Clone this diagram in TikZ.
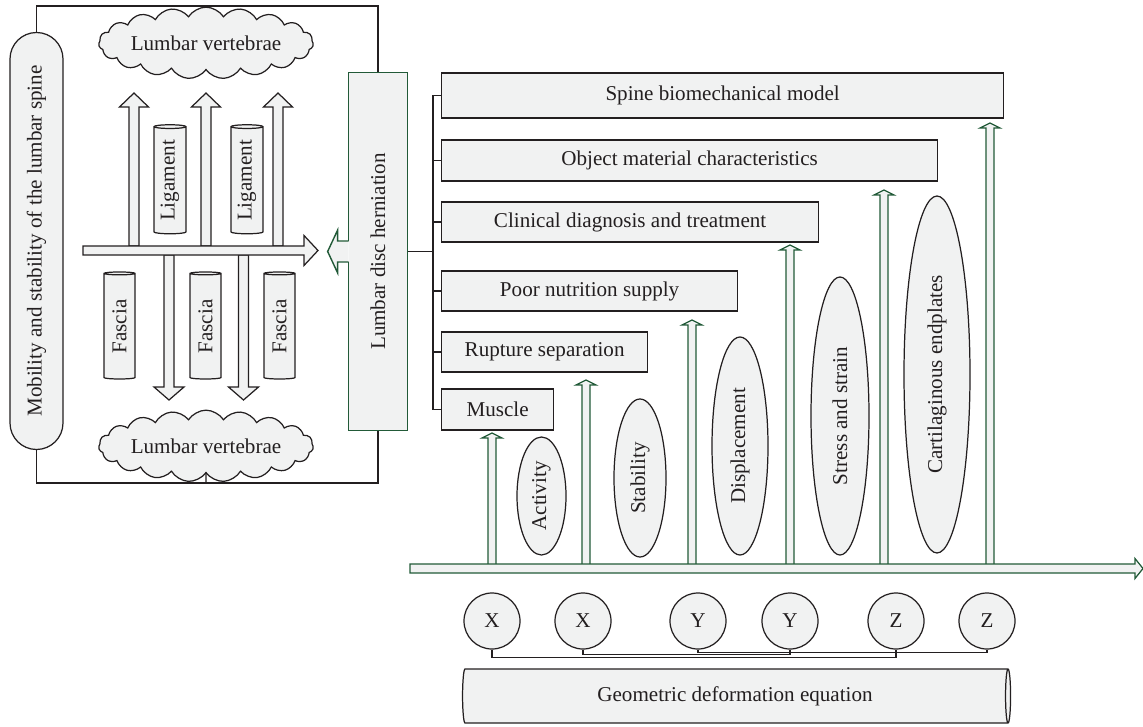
\documentclass[tikz,border=0pt]{standalone}
\usepackage{graphicx}
\usepackage{fontspec}
\setmainfont{Liberation Serif}
\usepackage{tikz}
\usetikzlibrary{shapes.geometric,shapes.symbols,calc,backgrounds}
\definecolor{boxfill}{RGB}{241,242,242}
\definecolor{inkgray}{RGB}{35,31,32}
\definecolor{darkgreen}{RGB}{34,90,56}

% block arrows: [style]{x}{y start}{y head base}{y tip}{shaft half}{head half}
\newcommand{\varrow}[7][]{%
  \filldraw[#1] ({#2-#6},{#3}) -- ({#2-#6},{#4}) -- ({#2-#7},{#4}) -- ({#2},{#5})
   -- ({#2+#7},{#4}) -- ({#2+#6},{#4}) -- ({#2+#6},{#3}) -- cycle;}
% [style]{y}{x start}{x head base}{x tip}{shaft half}{head half}
\newcommand{\harrow}[7][]{%
  \filldraw[#1] ({#3},{#2-#6}) -- ({#4},{#2-#6}) -- ({#4},{#2-#7}) -- ({#5},{#2})
   -- ({#4},{#2+#7}) -- ({#4},{#2+#6}) -- ({#3},{#2+#6}) -- cycle;}

\tikzset{
  every node/.style={font=\fontsize{12}{14}\selectfont, text=inkgray},
  graybox/.style={rectangle, draw=inkgray, fill=boxfill, line width=0.7pt, inner sep=0pt, anchor=west},
  pill/.style={rectangle, rounded corners=5.3mm, draw=inkgray, fill=boxfill, line width=0.7pt,
    minimum width=10.6mm, minimum height=83.4mm, inner sep=0pt},
  hernbox/.style={rectangle, fill=boxfill, minimum width=11.6mm, minimum height=71.4mm, inner sep=0pt},
  cylnode/.style={cylinder, draw=inkgray, fill=boxfill, line width=0.7pt, rotate=90, aspect=0.2, inner sep=0pt},
  oval/.style={ellipse, draw=inkgray, fill=boxfill, line width=0.7pt, rotate=90, inner sep=0pt},
  xyz/.style={circle, draw=inkgray, fill=boxfill, line width=0.7pt, minimum size=11.2mm, inner sep=0pt},
  vcloud/.style={cloud, cloud puffs=19, cloud puff arc=115, aspect=4, draw=inkgray, fill=boxfill,
    line width=0.7pt, minimum width=40mm, minimum height=9.6mm, inner sep=0pt},
  hollow/.style={draw=inkgray, fill=boxfill, line width=0.7pt},
  greenarrow/.style={draw=darkgreen, fill=boxfill, line width=0.7pt},
  greenline/.style={draw=darkgreen, line width=0.8pt},
  link/.style={draw=inkgray, line width=0.7pt}
}

\begin{document}
\begin{tikzpicture}[x=0.2mm,y=-0.2mm]
\useasboundingbox (0,0) rectangle (1143,727);

% left part
\node[pill] (mobility) at (36.5,241) {\rotatebox{90}{Mobility and stability of the lumbar spine}};
\node[vcloud] (vtop) at (206,43) {Lumbar vertebrae};
\node[vcloud] (vbot) at (206,446) {Lumbar vertebrae};
\node[hernbox] (hern) at (378,251.5) {\rotatebox{90}{Lumbar disc herniation}};

\coordinate (ftop) at (206,6);
\coordinate (fbot) at (206,483);
\coordinate (bus) at (433,0);

\foreach \x in {134,206,278} \varrow[hollow]{\x}{246}{107}{93}{5}{14.5};
\foreach \x in {169,243.5} \varrow[hollow]{\x}{255}{387}{400}{5}{15};
\harrow[hollow]{250.5}{83}{304}{318}{4.5}{15};

\node[cylnode, minimum height=21.8mm, minimum width=6.4mm] (ligament1) at (170,180.5) {Ligament};
\node[cylnode, minimum height=21.8mm, minimum width=6.4mm] (ligament2) at (247,180.5) {Ligament};
\node[cylnode, minimum height=21.4mm, minimum width=6.2mm] (fascia1) at (119.5,326.5) {Fascia};
\node[cylnode, minimum height=21.4mm, minimum width=6.2mm] (fascia2) at (205.5,326.5) {Fascia};
\node[cylnode, minimum height=21.4mm, minimum width=6.2mm] (fascia3) at (279.5,326.5) {Fascia};

% herniation box with its arrow notch
\filldraw[greenline, fill=boxfill] ($(hern.west)+(0,-10.5)$) -- ++(-11,0) -- ++(0,-11) -- ++(-10,21.5)
  -- ++(10,21.5) -- ++(0,-11) -- ++(11,0);
\draw[greenline] ($(hern.west)+(0,-10.5)$) |- (hern.north east) |- (hern.south west) -- ($(hern.west)+(0,10.5)$);

% right boxes
\node[graybox, minimum width=112.4mm, minimum height=9mm] (spine) at (441,95.5) {Spine biomechanical model};
\node[graybox, minimum width=99.2mm, minimum height=8.2mm] (object) at (441,160.5) {Object material characteristics};
\node[graybox, minimum width=75.4mm, minimum height=8mm] (clinical) at (441,222) {Clinical diagnosis and treatment};
\node[graybox, minimum width=59.2mm, minimum height=8mm] (nutrition) at (441,291) {Poor nutrition supply};
\node[graybox, minimum width=41.2mm, minimum height=8mm] (rupture) at (441,352) {Rupture separation};
\node[graybox, minimum width=22.4mm, minimum height=8.2mm] (muscle) at (441,409.5) {Muscle};

% ovals
\node[oval, minimum width=23.6mm, minimum height=9.8mm] (activity) at (541.5,496) {Activity};
\node[oval, minimum width=31.6mm, minimum height=10.4mm] (stability) at (640,478) {Stability};
\node[oval, minimum width=43.6mm, minimum height=11.2mm] (displacement) at (740,446) {Displacement};
\node[oval, minimum width=55.6mm, minimum height=11.6mm] (stress) at (840,416) {Stress and strain};
\node[oval, minimum width=71.4mm, minimum height=13.2mm] (endplates) at (937,374.5) {Cartilaginous endplates};

% green arrows and axis
\foreach \x/\t in {492/433,586/380,692/320,790/245,884/190,990/123}
  \varrow[greenarrow]{\x}{566}{\t+5}{\t}{4}{10};
\harrow[greenarrow]{568.5}{410}{1135}{1143}{4.5}{10};

% X Y Z
\foreach \n/\x/\l in {x1/492/X,x2/583/X,y1/698/Y,y2/790/Y,z1/896/Z,z2/987/Z}
  \node[xyz] (\n) at (\x,621) {\l};

\node[cylinder, draw=inkgray, fill=boxfill, line width=0.7pt, aspect=0.26, minimum height=109.6mm,
  minimum width=10.8mm, inner sep=0pt] (equation) at (735,696) {Geometric deformation equation};

\begin{scope}[on background layer]
\draw[link] (mobility.north) |- (ftop) -| (hern.north);
\draw[link] (mobility.south) |- (fbot) -| (hern.south);
\draw[link] (ftop) -- (vtop.north);
\draw[link] (fbot) -- (vbot.south);
\draw[link, line width=1pt] (hern.east) -- (hern.east -| bus);
\foreach \b in {spine,object,clinical,nutrition,rupture,muscle}
  \draw[link] (\b.west) -- (\b.west -| bus);
\draw[link] (spine.west -| bus) -- (muscle.west -| bus);
\draw[link] (x1.south) -- ++(0,8) -| (z1.south);
\draw[link] (x2.south) -- ++(0,5) -| (y2.south);
\draw[link] (y1.south) -- ++(0,2.5) -| (z2.south);
\end{scope}
\end{tikzpicture}
\end{document}
